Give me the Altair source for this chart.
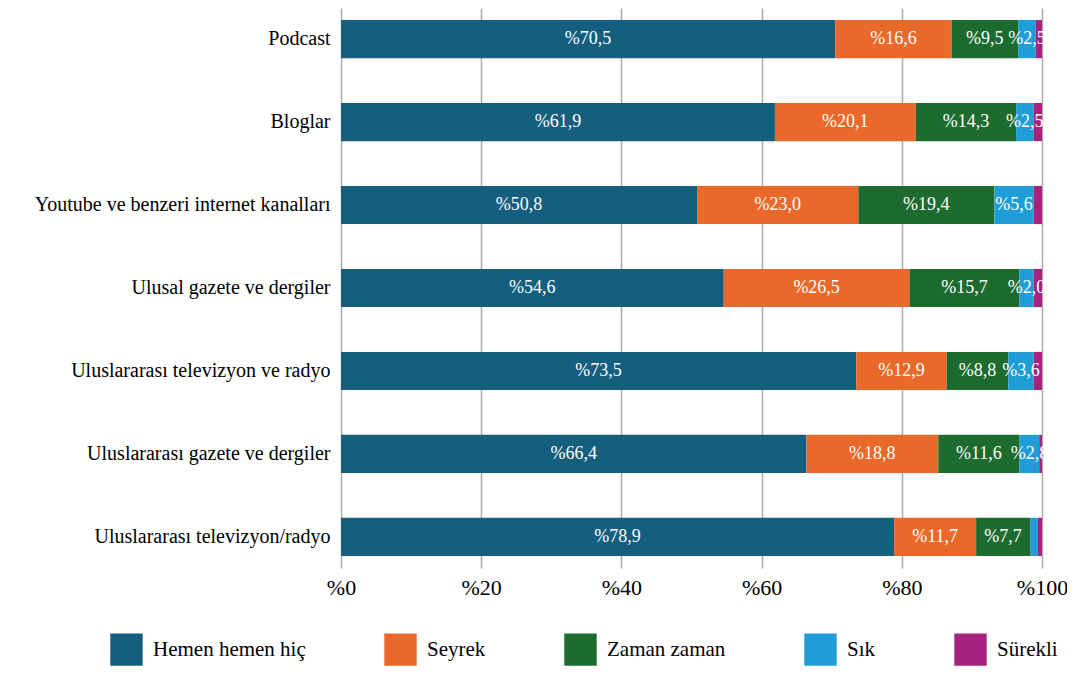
import altair as alt
import pandas as pd

categories = [
    "Podcast",
    "Bloglar",
    "Youtube ve benzeri internet kanalları",
    "Ulusal gazete ve dergiler",
    "Uluslararası televizyon ve radyo",
    "Uluslararası gazete ve dergiler",
    "Uluslararası televizyon/radyo",
]
series = ["Hemen hemen hiç", "Seyrek", "Zaman zaman", "Sık", "Sürekli"]
colors = ["#155E7E", "#E8692A", "#1E6B30", "#1F9DD9", "#A4237F"]

hemen = [70.5, 61.9, 50.8, 54.6, 73.5, 66.4, 78.9]
seyrek = [16.6, 20.1, 23.0, 26.5, 12.9, 18.8, 11.7]
zaman = [9.5, 14.3, 19.4, 15.7, 8.8, 11.6, 7.7]
sik = [2.5, 2.5, 5.6, 2.0, 3.6, 2.8, 1.1]
surekli = [0.9, 1.2, 1.2, 1.2, 1.2, 0.4, 0.6]

rows = []
for si, (s, vals) in enumerate(zip(series, [hemen, seyrek, zaman, sik, surekli])):
    for c, v in zip(categories, vals):
        rows.append({"cat": c, "series": s, "value": v, "order": si})
df = pd.DataFrame(rows)

FONT = "Liberation Serif"

base = alt.Chart(df).transform_stack(
    stack="value", as_=["x0", "x1"], groupby=["cat"], sort=[{"field": "order", "order": "ascending"}]
).transform_calculate(
    mid="(datum.x0 + datum.x1) / 2",
    label='"%" + replace(format(datum.value, ".1f"), ".", ",")',
)

yenc = alt.Y(
    "cat:N",
    sort=categories,
    title=None,
    scale=alt.Scale(paddingInner=0.54, paddingOuter=0.145),
    axis=alt.Axis(
        domain=False, ticks=False, grid=False, labelFont=FONT, labelFontSize=20,
        labelColor="#000000", labelPadding=11, labelLimit=400,
    ),
)

bars = base.mark_bar().encode(
    x=alt.X(
        "x0:Q",
        title=None,
        scale=alt.Scale(domain=[0, 100], nice=False),
        axis=alt.Axis(
            values=[0, 20, 40, 60, 80, 100], labelExpr='"%" + datum.value',
            domain=False, ticks=False, grid=True, gridColor="#ababab", gridWidth=1.5,
            labelFont=FONT, labelFontSize=22, labelColor="#000000", labelPadding=9,
            labelFlush=False,
        ),
    ),
    x2="x1:Q",
    y=yenc,
    color=alt.Color(
        "series:N",
        sort=series,
        scale=alt.Scale(domain=series, range=colors),
        legend=alt.Legend(
            title=None, orient="none", direction="horizontal", columns=5,
            legendX=-231, legendY=625, symbolType="square", symbolSize=1050,
            symbolStrokeWidth=0, symbolOpacity=1, labelFont=FONT, labelFontSize=21,
            labelColor="#000000", columnPadding=78, labelOffset=10, labelLimit=300,
        ),
    ),
    order=alt.Order("order:Q"),
)

texts = base.transform_filter("datum.value >= 2").mark_text(
    color="white", font=FONT, fontSize=18
).encode(
    x="mid:Q",
    y=alt.Y("cat:N", sort=categories),
    text="label:N",
)

chart = alt.layer(bars, texts).properties(
    width=701, height=560,
    autosize=alt.AutoSizeParams(type="none"),
    padding={"left": 333, "top": 0, "right": 25, "bottom": 102},
).configure_view(stroke=None)

chart.save("out.html", embed_options={"renderer": "svg", "actions": False})
